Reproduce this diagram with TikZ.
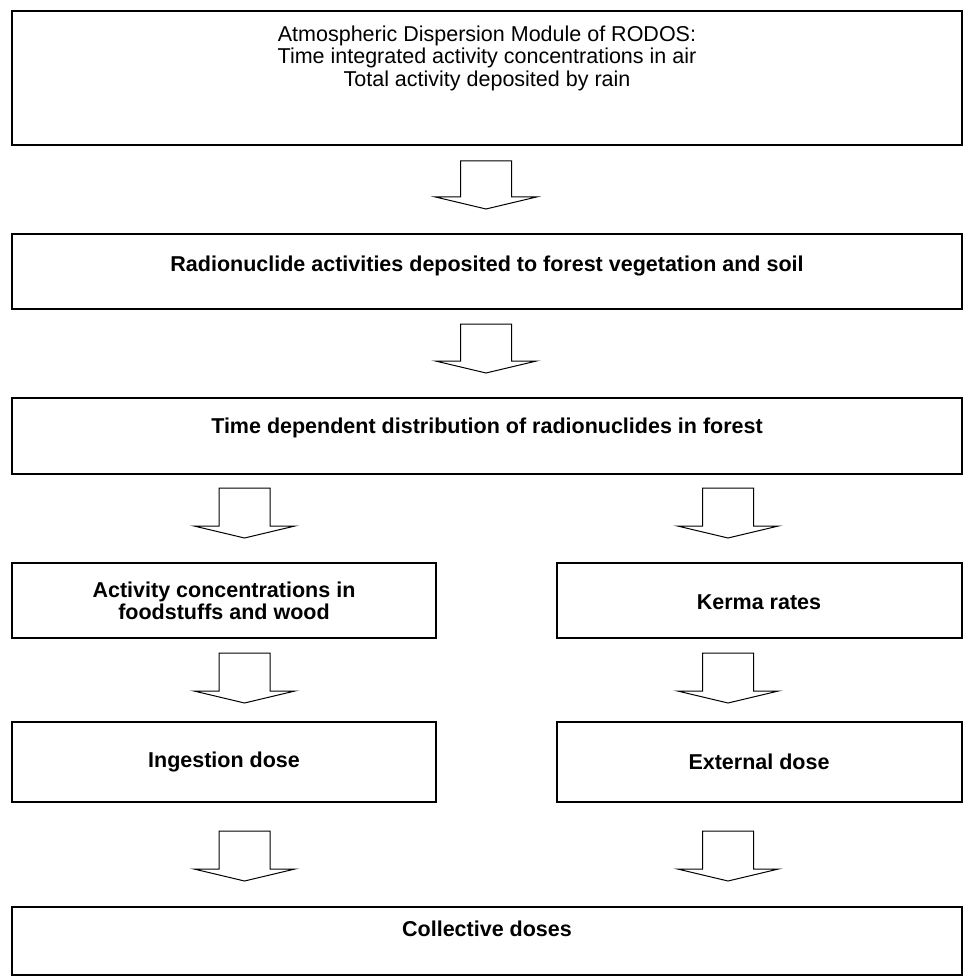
\documentclass[tikz,border=0pt]{standalone}
\usepackage{fontspec}
\setmainfont{Liberation Sans}
\begin{document}
\begin{tikzpicture}[x=1pt,y=-1pt,
  box/.style={draw=black,line width=1.3pt},
  lbl/.style={font=\fontsize{21.5}{22.5}\selectfont,align=center,inner sep=0pt},
  blbl/.style={lbl,font=\fontsize{21.5}{22.5}\selectfont\bfseries},
  pics/blockarrow/.style={code={
    \draw[line width=1pt,line join=miter,fill=white]
      (-25.5,0) -- (25.5,0) -- (25.5,#1) -- (50.5,#1) -- (0,#1+12) -- (-50.5,#1) -- (-25.5,#1) -- cycle;}}
]
\useasboundingbox (0,0) rectangle (974,976);
\draw[box] (12,11) rectangle (962,145);
\draw[box] (12,234) rectangle (962,309);
\draw[box] (12,398) rectangle (962,474);
\draw[box] (12,563) rectangle (436,638);
\draw[box] (557,563) rectangle (962,638);
\draw[box] (12,722) rectangle (436,802);
\draw[box] (557,722) rectangle (962,802);
\draw[box] (12,907) rectangle (962,975);

\node[lbl] (t1) at (487,58) {Atmospheric Dispersion Module of RODOS:\\Time integrated activity concentrations in air\\Total activity deposited by rain};
\node[blbl] (t2) at (487,266) {Radionuclide activities deposited to forest vegetation and soil};
\node[blbl] (t3) at (487,428) {Time dependent distribution of radionuclides in forest};
\node[blbl] (t4l) at (224,601) {Activity concentrations in\\foodstuffs and wood};
\node[blbl] (t4r) at (759,602) {Kerma rates};
\node[blbl] (t5l) at (224,762) {Ingestion dose};
\node[blbl] (t5r) at (759,762) {External dose};
\node[blbl] (t6) at (487,929) {Collective doses};

\pic at (486,161) {blockarrow=36};
\pic at (486,324) {blockarrow=37};
\pic at (244.5,488) {blockarrow=38};
\pic at (728,488) {blockarrow=38};
\pic at (244.5,653) {blockarrow=38};
\pic at (728,653) {blockarrow=38};
\pic at (244.5,831) {blockarrow=38};
\pic at (728,831) {blockarrow=38};
\end{tikzpicture}
\end{document}
